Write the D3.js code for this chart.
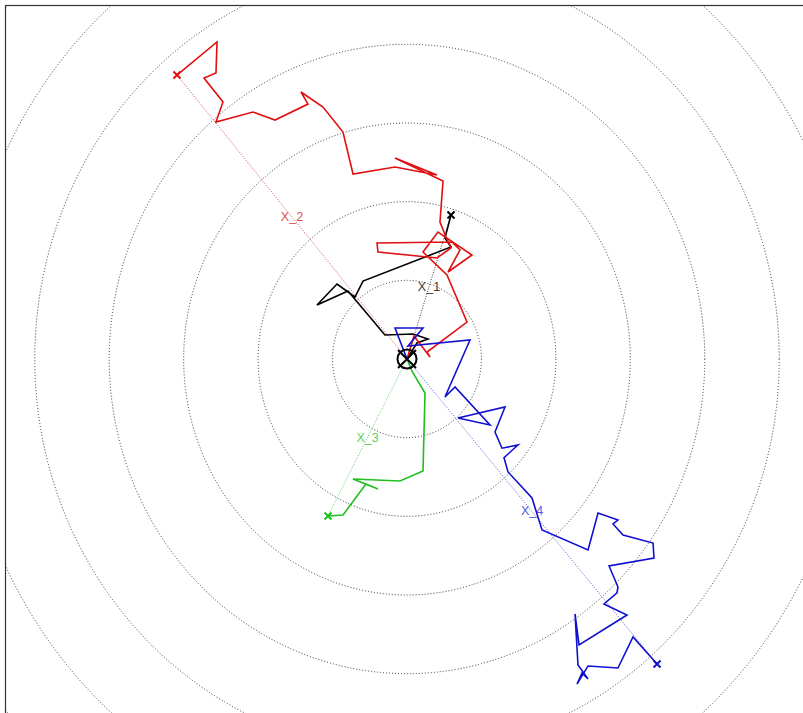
<!DOCTYPE html>
<html>
<head>
<meta charset="utf-8">
<script src="https://cdn.jsdelivr.net/npm/d3@7"></script>
<style>
  html, body { margin: 0; padding: 0; background: #fff; }
  svg { display: block; }
</style>
</head>
<body>
<svg id="chart" width="803" height="713"></svg>
<script>
// Random-walk traces, in plot units, each starting at the origin.
const walkX1 = [[0,0],[0.134,0.203],[0.282,0.254],[0.081,0.318],[-0.296,0.305],[-0.793,0.864],[-1.209,0.686],
  [-0.940,0.953],[-0.699,0.788],[-0.591,0.991],[0.591,1.424],[0.510,1.538],[0.591,1.830]];

const walkX2 = [[0,0],[0.094,0.292],[0.309,0.025],[0.269,0.089],[0.806,0.470],[0.537,1.068],[0.215,1.360],
  [0.416,1.614],[0.873,1.322],[0.551,1.106],[0.712,1.386],[0.605,1.487],[-0.403,1.475],[-0.390,1.360],
  [0.403,1.284],[0.591,1.411],[0.524,1.551],[0.443,1.741],[0.484,2.263],[-0.161,2.555],[0.403,2.339],
  [-0.161,2.441],[-0.725,2.352],[-0.860,2.885],[-1.128,3.203],[-1.424,3.394],[-1.330,3.241],[-1.773,3.038],
  [-2.069,3.140],[-2.566,3.013],[-2.472,3.267],[-2.727,3.572],[-2.566,3.635],[-2.552,4.030],[-3.090,3.610]];

const walkX3 = [[0,0],[0.067,-0.153],[0.242,-0.432],[0.215,-1.424],[-0.094,-1.551],[-0.725,-1.525],
  [-0.390,-1.652],[-0.551,-1.589],[-0.860,-1.983],[-1.061,-1.996]];

const walkX4 = [[0,0],[-0.161,0.394],[0.215,0.394],[0.013,0.165],[0.846,0.242],[0.510,-0.483],[0.645,-0.356],
  [1.115,-0.839],[0.685,-0.750],[1.317,-0.610],[1.182,-0.928],[1.276,-1.134],[1.491,-1.093],[1.303,-1.254],
  [1.357,-1.436],[1.679,-1.767],[1.814,-2.174],[2.432,-2.428],[2.566,-1.958],[2.834,-2.047],[2.767,-2.097],
  [2.902,-2.237],[3.305,-2.339],[3.318,-2.530],[2.714,-2.631],[2.834,-2.898],[2.821,-2.974],[2.646,-3.114],
  [2.955,-3.254],[2.311,-3.635],[2.257,-3.241],[2.297,-3.890],[2.432,-4.068],[2.351,-3.991],[2.284,-4.131],
  [2.432,-3.902],[2.834,-3.928],[3.036,-3.534],[3.359,-3.877]];

const seriesNames = ["X_1", "X_2", "X_3", "X_4"];
const seriesWalks = [walkX1, walkX2, walkX3, walkX4];
const seriesColors = ["#000000", "#e01010", "#1fbf1f", "#1010d0"];
const labelColors = ["#3a3a3a", "#e05050", "#5fcf5f", "#5a5ad8"];

// Distance rings around the origin.
const ringRadii = [1, 2, 3, 4, 5, 6, 7, 8];

const xDomain = [-5.4, 5.4];
const yDomain = [-4.5, 4.5];

const svg = d3.select("#chart");
const plot = { left: 5, top: 5, right: 809, bottom: 713 };

const x = d3.scaleLinear().domain(xDomain).range([plot.left, plot.right]);
const y = d3.scaleLinear().domain(yDomain).range([plot.bottom, plot.top]);

svg.append("rect").attr("width", 803).attr("height", 713).attr("fill", "#fff");

svg.append("clipPath").attr("id", "plotClip")
  .append("rect")
  .attr("x", plot.left).attr("y", plot.top)
  .attr("width", plot.right - plot.left).attr("height", plot.bottom - plot.top);

const g = svg.append("g").attr("clip-path", "url(#plotClip)");

// Rings (ellipses on screen, since the two axes use different pixel scales)
g.selectAll("ellipse.ring")
  .data(ringRadii)
  .join("ellipse")
  .attr("class", "ring")
  .attr("cx", x(0)).attr("cy", y(0))
  .attr("rx", d => x(d) - x(0))
  .attr("ry", d => y(0) - y(d))
  .attr("fill", "none")
  .attr("stroke", "#333")
  .attr("stroke-width", 1)
  .attr("stroke-dasharray", "1,2");

const line = d3.line().x(d => x(d[0])).y(d => y(d[1]));

seriesWalks.forEach((walk, i) => {
  const end = walk[walk.length - 1];
  // straight displacement from origin to the final position
  g.append("line")
    .attr("x1", x(0)).attr("y1", y(0))
    .attr("x2", x(end[0])).attr("y2", y(end[1]))
    .attr("stroke", labelColors[i])
    .attr("stroke-width", 1)
    .attr("stroke-dasharray", "1,1.5");
  g.append("text")
    .attr("x", x(end[0] / 2)).attr("y", y(end[1] / 2))
    .attr("text-anchor", "middle")
    .attr("dominant-baseline", "central")
    .attr("font-family", "Liberation Sans, Arial, sans-serif")
    .attr("font-size", 12.5)
    .attr("fill", labelColors[i])
    .text(seriesNames[i]);
});

seriesWalks.forEach((walk, i) => {
  const end = walk[walk.length - 1];
  g.append("path")
    .datum(walk)
    .attr("d", line)
    .attr("fill", "none")
    .attr("stroke", seriesColors[i])
    .attr("stroke-width", 1.6)
    .attr("stroke-linejoin", "miter");
  const ex = x(end[0]), ey = y(end[1]), s = 3.5;
  g.append("path")
    .attr("d", `M${ex - s},${ey - s}L${ex + s},${ey + s}M${ex - s},${ey + s}L${ex + s},${ey - s}`)
    .attr("stroke", seriesColors[i])
    .attr("stroke-width", 2)
    .attr("fill", "none");
});

// Origin marker: circle with a cross
const cx = x(0), cy = y(0);
g.append("circle")
  .attr("cx", cx).attr("cy", cy).attr("r", 9.5)
  .attr("fill", "none").attr("stroke", "#000").attr("stroke-width", 2);
g.append("path")
  .attr("d", `M${cx - 9},${cy - 9}L${cx + 9},${cy + 9}M${cx - 9},${cy + 9}L${cx + 9},${cy - 9}`)
  .attr("stroke", "#000").attr("stroke-width", 2).attr("fill", "none");

// Frame
svg.append("rect")
  .attr("x", plot.left + 0.5).attr("y", plot.top + 0.5)
  .attr("width", 820).attr("height", 730)
  .attr("fill", "none").attr("stroke", "#333").attr("stroke-width", 1.2);
</script>
</body>
</html>
